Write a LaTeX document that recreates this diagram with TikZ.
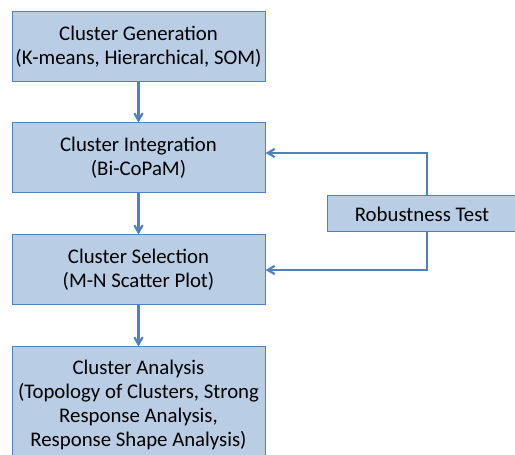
\documentclass[tikz,border=0pt]{standalone}
\usepackage{fontspec}
\setmainfont{Carlito}
\usepackage{tikz}
\usepackage{xcolor}
\usetikzlibrary{arrows}

\definecolor{boxfill}{RGB}{185,205,229}
\definecolor{boxline}{RGB}{79,129,189}

\begin{document}
\begin{tikzpicture}[x=1pt,y=1pt,line width=1.00pt,
    stage/.style={draw=boxline,fill=boxfill,rectangle,align=center,inner sep=0pt,
      minimum width=253pt,minimum height=70pt,font=\fontsize{20.8}{24}\selectfont},
    flow/.style={draw=boxline,-angle 60,line width=2.2pt}]
      \useasboundingbox (0,0) rectangle (515,455);

      \node [stage] (gen) at (138.5,408) {Cluster Generation\\(K-means, Hierarchical, SOM)};
      \node [stage] (integ) at (138.5,297) {Cluster Integration\\(Bi-CoPaM)};
      \node [stage] (select) at (138.5,185) {Cluster Selection\\(M-N Scatter Plot)};
      \node [stage,minimum height=116pt] (analysis) at (138.5,50) {%
        Cluster Analysis\\
        (Topology of Clusters, Strong\\
        Response Analysis,\\
        Response Shape Analysis)
      };
      \node [stage,minimum width=190pt,minimum height=36pt] (robust) at (422,241) {Robustness Test};

      \draw [flow] (gen) -- (integ);
      \draw [flow] (integ) -- (select);
      \draw [flow] (select) -- (analysis);

      \draw [flow] ([xshift=5pt]robust.north) |- ([yshift=5pt]integ.east);
      \draw [flow] ([xshift=5pt]robust.south) |- (select.east);
\end{tikzpicture}
\end{document}
